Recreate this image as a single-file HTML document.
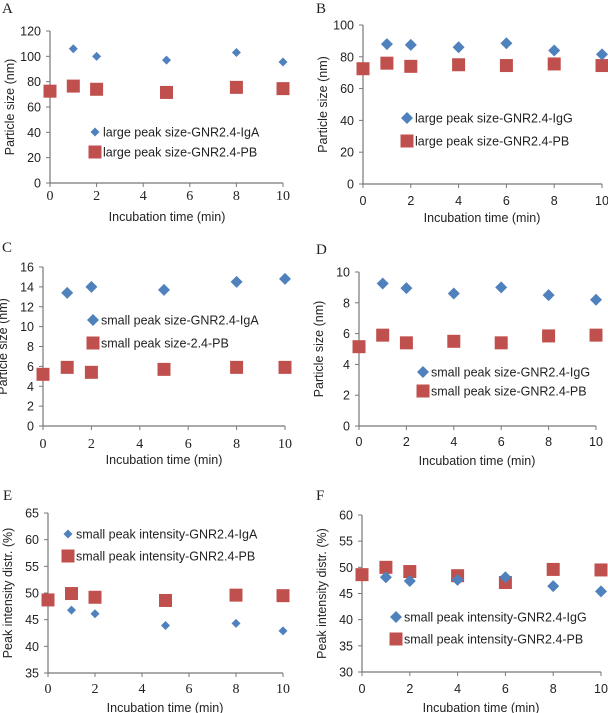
<!DOCTYPE html>
<html><head><meta charset="utf-8"><style>
body{margin:0;background:#fff}svg{display:block}
text{font-family:"Liberation Sans",sans-serif;fill:#222}
</style></head><body>
<svg id="c" width="608" height="713"></svg>
<script>
const xA=[1,2,5,8,10], xA0=[0,1,2,5,8,10], xB=[1,2,4,6,8,10], xB0=[0,1,2,4,6,8,10];
const aIgA=[106,100,97,103,95.5], aPB=[72.5,76.5,74,71.5,75.5,74.5];
const bIgG=[88,87.5,86,88.5,84,81.5], bPB=[72.5,76,74,75,74.5,75.5,74.5];
const cIgA=[13.4,14,13.7,14.5,14.8], cPB=[5.2,5.9,5.4,5.7,5.9,5.9];
const dIgG=[9.25,8.95,8.6,9.0,8.5,8.2], dPB=[5.15,5.9,5.4,5.5,5.4,5.85,5.9];
const eIgA=[46.8,46.1,43.9,44.3,42.9], ePB=[48.7,49.9,49.2,48.6,49.6,49.5];
const fIgG=[48.1,47.4,47.6,48.1,46.4,45.4], fPB=[48.6,50,49.2,48.4,47.1,49.6,49.5];
const xTicksA=[0,2,4,6,8,10];
const panels=[
{id:'a',L:'A',lx:2,ly:13,x0:50,x1:283,yt:31,yb:183,ymin:0,ymax:120,ystep:20,serif:true,dsz:4.5,
 xs1:xA,v1:aIgA,xs2:xA0,v2:aPB,l1:'large peak size-GNR2.4-IgA',l2:'large peak size-GNR2.4-PB',lgx:95,lg1:132,lg2:152,yt2:'Particle size (nm)',tx:167,ty:221,xl:200},
{id:'b',L:'B',lx:316,ly:13,x0:363,x1:602,yt:25,yb:184,ymin:0,ymax:100,ystep:20,serif:false,dsz:6,
 xs1:xB,v1:bIgG,xs2:xB0,v2:bPB,l1:'large peak size-GNR2.4-IgG',l2:'large peak size-GNR2.4-PB',lgx:407,lg1:118,lg2:141,yt2:'Particle size (nm)',tx:482,ty:222,xl:205},
{id:'c',L:'C',lx:2,ly:252,x0:43,x1:285,yt:267,yb:426,ymin:0,ymax:16,ystep:2,serif:true,dsz:6,
 xs1:xA,v1:cIgA,xs2:xA0,v2:cPB,l1:'small peak size-GNR2.4-IgA',l2:'small peak size-2.4-PB',lgx:93,lg1:320,lg2:343,yt2:'Particle size (nm)',tx:164,ty:464,xl:448},
{id:'d',L:'D',lx:316,ly:254,x0:359,x1:596,yt:272,yb:426,ymin:0,ymax:10,ystep:2,serif:false,dsz:6,
 xs1:xB,v1:dIgG,xs2:xB0,v2:dPB,l1:'small peak size-GNR2.4-IgG',l2:'small peak size-GNR2.4-PB',lgx:423,lg1:372,lg2:391,yt2:'Particle size (nm)',tx:477,ty:465,xl:446},
{id:'e',L:'E',lx:3,ly:500,x0:48,x1:283,yt:513,yb:673,ymin:35,ymax:65,ystep:5,serif:true,dsz:4.5,
 xs1:xA,v1:eIgA,xs2:xA0,v2:ePB,l1:'small peak intensity-GNR2.4-IgA',l2:'small peak intensity-GNR2.4-PB',lgx:68,lg1:534,lg2:556,yt2:'Peak intensity distr. (%)',tx:165,ty:712,xl:693},
{id:'f',L:'F',lx:316,ly:500,x0:362,x1:601,yt:515,yb:672,ymin:30,ymax:60,ystep:5,serif:false,dsz:6,
 xs1:xB,v1:fIgG,xs2:xB0,v2:fPB,l1:'small peak intensity-GNR2.4-IgG',l2:'small peak intensity-GNR2.4-PB',lgx:396,lg1:617,lg2:639,yt2:'Peak intensity distr. (%)',tx:481,ty:712,xl:693}
];
const svg=document.getElementById('c');const NS='http://www.w3.org/2000/svg';
function mk(t,a,p,txt){const e=document.createElementNS(NS,t);for(const k in a)e.setAttribute(k,a[k]);if(txt!==undefined)e.textContent=txt;p.appendChild(e);return e;}
function dia(g,x,y,s){return mk('polygon',{points:`${x},${y-s} ${x+s},${y} ${x},${y+s} ${x-s},${y}`,fill:'#4f81bd'},g);}
function sq(g,x,y){return mk('rect',{x:x-6.5,y:y-6.5,width:13,height:13,fill:'#c0504d'},g);}
panels.forEach(p=>{
 const g=mk('g',{},svg);
 
 
 const X=v=>p.x0+(p.x1-p.x0)*v/10, Y=v=>p.yb-(p.yb-p.yt)*(v-p.ymin)/(p.ymax-p.ymin);
 const lab=mk('text',{x:p.lx,y:p.ly,'font-size':15,style:'font-family:"Liberation Serif",serif'},g,p.L);
 
 
 const ax=mk('path',{d:`M${p.x0},${p.yt}V${p.yb}H${p.x1}`,stroke:'#777',fill:'none','stroke-width':1.2},g);
 
 
 for(let v=p.ymin;v<=p.ymax+1e-9;v+=p.ystep){const y=Y(v);
  mk('line',{x1:p.x0-4,x2:p.x0,y1:y,y2:y,stroke:'#777'},g);
  const t=mk('text',{x:p.x0-9,y:y+4.5,'font-size':12.5,'text-anchor':'end'},g,String(v));
  
  }
 xTicksA.forEach(v=>{const x=X(v);
  mk('line',{x1:x,x2:x,y1:p.yb,y2:p.yb+4,stroke:'#777'},g);
  const t=mk('text',{x:x,y:p.xl,'font-size':p.serif?14:12.5,'text-anchor':'middle',style:p.serif?'font-family:"Liberation Serif",serif':''},g,String(v));
  
  });
 const tt=mk('text',{x:p.tx,y:p.ty,'font-size':12.5,'text-anchor':'middle'},g,'Incubation time (min)');
 
 
 const cy=(p.yt+p.yb)/2, yx=p.x0-36;
 const yt=mk('text',{x:yx,y:cy,'font-size':12.5,'text-anchor':'middle',transform:`rotate(-90 ${yx} ${cy})`},g,p.yt2);
 
 
 p.xs2.forEach((x,i)=>{const m=sq(g,X(x),Y(p.v2[i]));
  
  });
 p.xs1.forEach((x,i)=>{const m=dia(g,X(x),Y(p.v1[i]),p.dsz);
  
  });
 const l1=dia(g,p.lgx,p.lg1,p.dsz);
 
 
 const t1=mk('text',{x:p.lgx+8,y:p.lg1+4.5,'font-size':12.5},g,p.l1);
 
 
 const l2=sq(g,p.lgx,p.lg2);
 
 
 const t2=mk('text',{x:p.lgx+8,y:p.lg2+4.5,'font-size':12.5},g,p.l2);
 
 
});
</script></body></html>
